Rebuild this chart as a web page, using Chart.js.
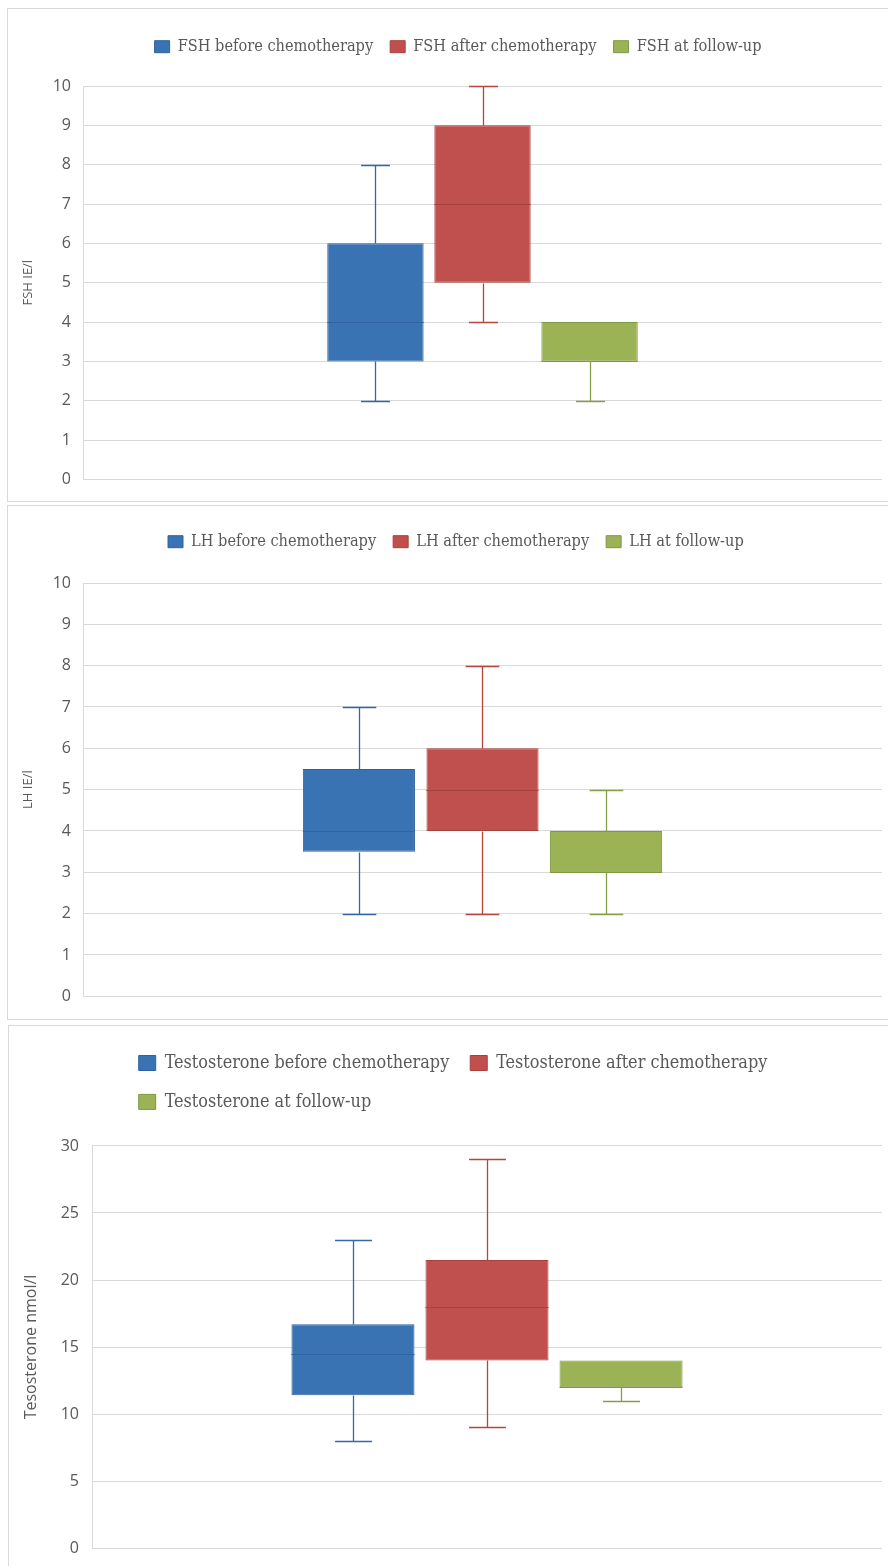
<!DOCTYPE html>
<html>
<head>
<meta charset="utf-8">
<title>Hormone levels before and after chemotherapy</title>
<script src="https://cdn.jsdelivr.net/npm/chart.js@4.4.1/dist/chart.umd.min.js"></script>
<style>
  html, body { margin: 0; padding: 0; background: #fff; }
  body { width: 888px; height: 1566px; overflow: hidden; position: relative; }
  .panel { position: absolute; width: 900px; border: 1px solid #d9d9d9; box-sizing: border-box; }
  .panel canvas { display: block; }
</style>
</head>
<body>
<div class="panel" style="left:7px;top:8px;height:494px"><canvas id="fsh-chart" width="880" height="492"></canvas></div>
<div class="panel" style="left:7px;top:505px;height:515px"><canvas id="lh-chart" width="880" height="513"></canvas></div>
<div class="panel" style="left:8px;top:1025px;height:560px"><canvas id="testo-chart" width="879" height="545"></canvas></div>
<script>
// Series order: before chemotherapy, after chemotherapy, at follow-up
const fshLabels = ["FSH before chemotherapy", "FSH after chemotherapy", "FSH at follow-up"];
const fshLow = [2, 4, 2];
const fshQ1 = [3, 5, 3];
const fshMedian = [4, 7, 3];
const fshQ3 = [6, 9, 4];
const fshHigh = [8, 10, 4];
const fshTicks = [0, 1, 2, 3, 4, 5, 6, 7, 8, 9, 10];

const lhLabels = ["LH before chemotherapy", "LH after chemotherapy", "LH at follow-up"];
const lhLow = [2, 2, 2];
const lhQ1 = [3.5, 4, 3];
const lhMedian = [4, 5, 3];
const lhQ3 = [5.5, 6, 4];
const lhHigh = [7, 8, 5];
const lhTicks = [0, 1, 2, 3, 4, 5, 6, 7, 8, 9, 10];

const testoLabels = ["Testosterone before chemotherapy", "Testosterone after chemotherapy", "Testosterone at follow-up"];
const testoLow = [8, 9, 11];
const testoQ1 = [11.4, 14, 12];
const testoMedian = [14.5, 18, 12];
const testoQ3 = [16.7, 21.5, 14];
const testoHigh = [23, 29, 14];
const testoTicks = [0, 5, 10, 15, 20, 25, 30];

const fills = ["#3a73b3", "#c0504d", "#9bb355"];
const edges = ["#2f62a0", "#a8413e", "#7f9845"];
const whiskerColors = ["#3268ab", "#b8443f", "#86a04a"];
const textColor = "#595959";
const gridColor = "#d9d9d9";
const legendFont = '"DejaVu Serif Condensed", "Liberation Serif", serif';

Chart.defaults.font.family = '"Open Sans", "Noto Sans", sans-serif';

// whiskers, caps and median line on top of the floating bars
const boxWhiskers = {
  id: "boxWhiskers",
  afterDatasetsDraw(chart) {
    const { ctx } = chart;
    const y = chart.scales.y;
    const py = (v) => Math.round(y.getPixelForValue(v)) + 0.5;
    chart.data.datasets.forEach((ds, i) => {
      const bar = chart.getDatasetMeta(i).data[0];
      const x = Math.round(bar.x) + 0.5;
      const half = bar.width / 2;
      const cap = bar.width * 0.15;
      ctx.save();
      ctx.lineWidth = 1.3;
      ctx.strokeStyle = ds.whiskerColor;
      ctx.beginPath();
      if (ds.high > ds.q3) {
        ctx.moveTo(x, py(ds.q3));
        ctx.lineTo(x, py(ds.high));
        ctx.moveTo(x - cap, py(ds.high));
        ctx.lineTo(x + cap, py(ds.high));
      }
      if (ds.low < ds.q1) {
        ctx.moveTo(x, py(ds.q1));
        ctx.lineTo(x, py(ds.low));
        ctx.moveTo(x - cap, py(ds.low));
        ctx.lineTo(x + cap, py(ds.low));
      }
      ctx.stroke();
      // median
      ctx.lineWidth = 1;
      ctx.strokeStyle = ds.borderColor;
      ctx.beginPath();
      ctx.moveTo(bar.x - half, py(ds.median));
      ctx.lineTo(bar.x + half, py(ds.median));
      ctx.stroke();
      ctx.restore();
    });
  },
};

// extra room under the legend, and move it to where the original had it
const legendSpacing = {
  id: "legendSpacing",
  beforeInit(chart, args, opts) {
    const fit = chart.legend.fit;
    chart.legend.fit = function () {
      fit.call(this);
      this.height += opts.gap || 0;
    };
  },
  afterLayout(chart, args, opts) {
    chart.legend.left += opts.shift || 0;
  },
};

function boxChart(id, cfg) {
  const datasets = cfg.labels.map((label, i) => ({
    label: label,
    data: [[cfg.q1[i], cfg.q3[i]]],
    low: cfg.low[i],
    q1: cfg.q1[i],
    median: cfg.median[i],
    q3: cfg.q3[i],
    high: cfg.high[i],
    whiskerColor: whiskerColors[i],
    backgroundColor: fills[i],
    borderColor: edges[i],
    borderWidth: 1,
    borderSkipped: false,
    barPercentage: cfg.barPct,
    categoryPercentage: cfg.catPct,
  }));

  return new Chart(document.getElementById(id), {
    type: "bar",
    data: { labels: [cfg.category], datasets: datasets },
    plugins: [boxWhiskers, legendSpacing],
    options: {
      responsive: false,
      animation: false,
      layout: { padding: { top: cfg.padTop, right: 6, bottom: cfg.padBottom, left: 0 } },
      plugins: {
        legend: {
          align: "start",
          labels: {
            color: textColor,
            font: { family: legendFont, size: cfg.legendSize },
            boxWidth: cfg.boxW,
            boxHeight: cfg.boxH,
            padding: cfg.legendPad,
          },
        },
        legendSpacing: { gap: cfg.gap, shift: cfg.shift },
        tooltip: { enabled: false },
      },
      scales: {
        x: { display: false },
        y: {
          min: cfg.ticks[0],
          max: cfg.ticks[cfg.ticks.length - 1],
          afterBuildTicks: (scale) => {
            scale.ticks = cfg.ticks.map((v) => ({ value: v }));
          },
          afterFit: (scale) => {
            scale.width = cfg.axisWidth;
          },
          grid: { color: gridColor, drawTicks: false },
          border: { color: gridColor },
          ticks: { color: textColor, padding: cfg.tickPad, font: { size: 16 } },
          title: {
            display: true,
            text: cfg.yTitle,
            color: textColor,
            font: { size: cfg.titleSize },
            padding: { top: cfg.titlePad, bottom: 0 },
          },
        },
      },
    },
  });
}

boxChart("fsh-chart", {
  category: "FSH",
  labels: fshLabels, low: fshLow, q1: fshQ1, median: fshMedian, q3: fshQ3, high: fshHigh,
  ticks: fshTicks, yTitle: "FSH IE/l",
  catPct: 0.402, barPct: 0.9,
  legendSize: 16.2, boxW: 15, boxH: 12, legendPad: 17, shift: 129.6, gap: 21.2,
  padTop: 12.6, padBottom: 19.7, axisWidth: 75, tickPad: 12, titleSize: 13, titlePad: 12.5,
});

boxChart("lh-chart", {
  category: "LH",
  labels: lhLabels, low: lhLow, q1: lhQ1, median: lhMedian, q3: lhQ3, high: lhHigh,
  ticks: lhTicks, yTitle: "LH IE/l",
  catPct: 0.464, barPct: 0.907,
  legendSize: 16.2, boxW: 15, boxH: 12, legendPad: 17, shift: 143, gap: 23.2,
  padTop: 10.6, padBottom: 22.7, axisWidth: 75, tickPad: 12, titleSize: 13, titlePad: 12.5,
});

boxChart("testo-chart", {
  category: "Testosterone",
  labels: testoLabels, low: testoLow, q1: testoQ1, median: testoMedian, q3: testoQ3, high: testoHigh,
  ticks: testoTicks, yTitle: "Tesosterone nmol/l",
  catPct: 0.509, barPct: 0.918,
  legendSize: 17.9, boxW: 17, boxH: 15, legendPad: 21, shift: 108.7, gap: 25.15,
  padTop: 7.05, padBottom: 23, axisWidth: 83, tickPad: 13, titleSize: 16, titlePad: 13.1,
});
</script>
</body>
</html>
